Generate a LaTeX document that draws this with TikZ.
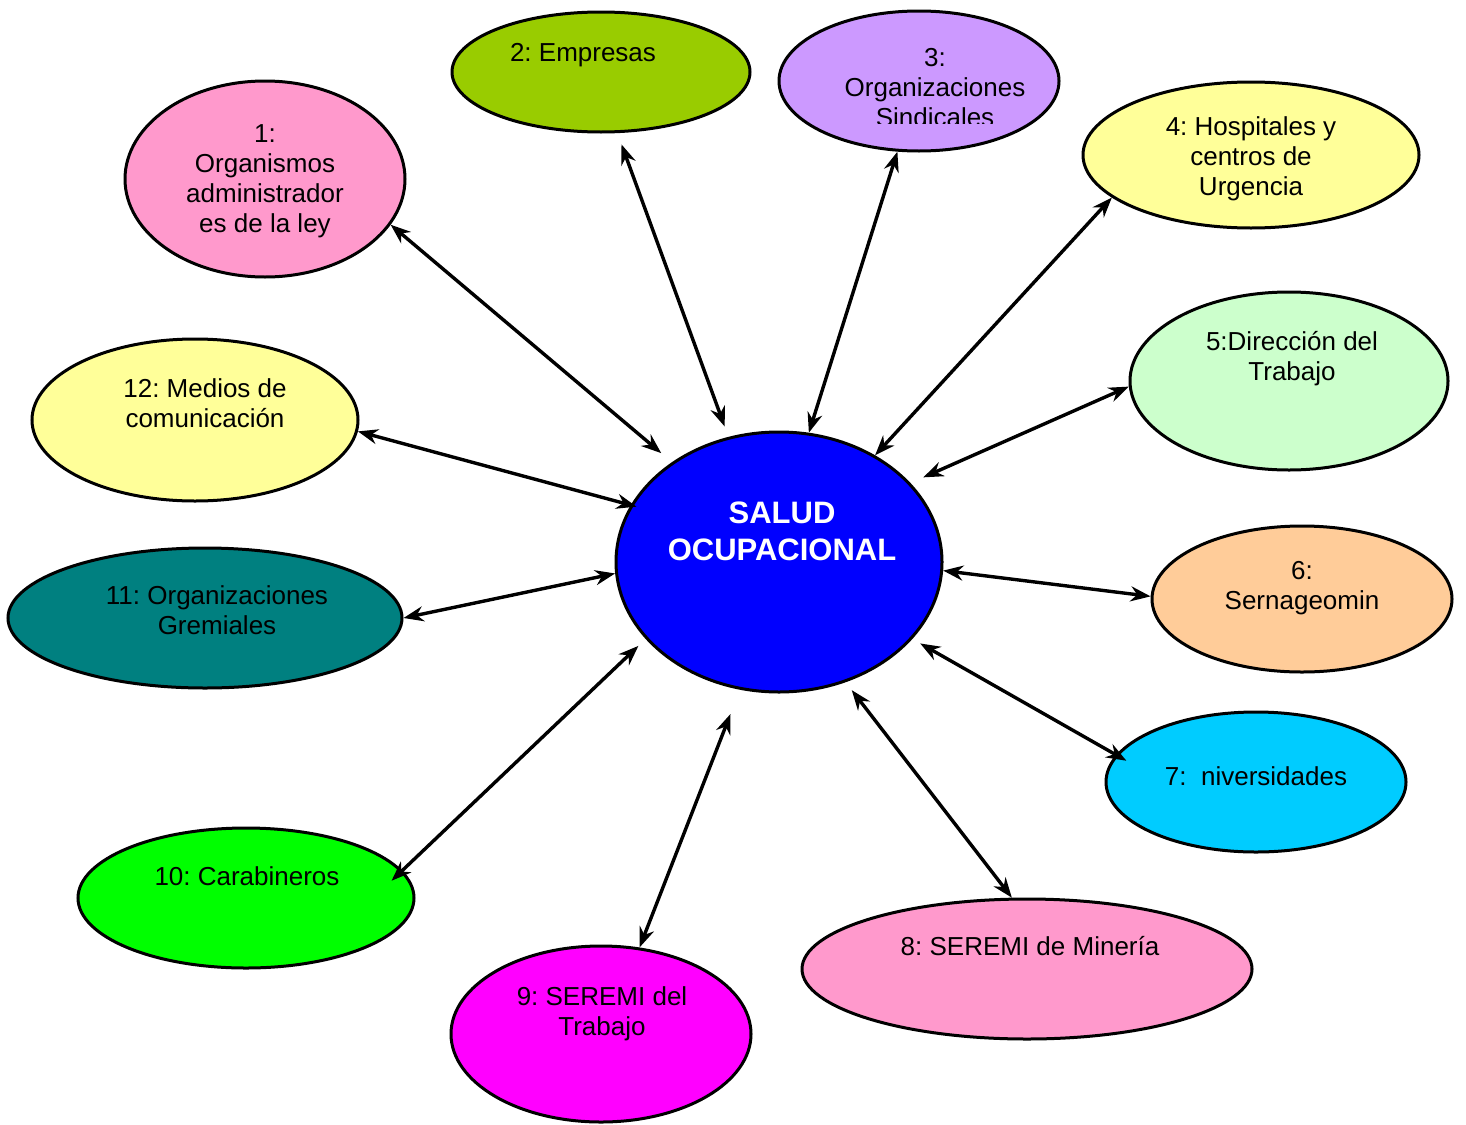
\documentclass[tikz,border=0pt]{standalone}
\usepackage{fontspec}
\setmainfont{Liberation Sans}
\usetikzlibrary{arrows.meta,shapes.geometric}
\frenchspacing

\definecolor{rosa}{HTML}{FF99CC}
\definecolor{oliva}{HTML}{99CC00}
\definecolor{lila}{HTML}{CC99FF}
\definecolor{amarillo}{HTML}{FFFF99}
\definecolor{menta}{HTML}{CCFFCC}
\definecolor{durazno}{HTML}{FFCC99}
\definecolor{celeste}{HTML}{00CCFF}
\definecolor{magenta}{HTML}{FF00FF}
\definecolor{verde}{HTML}{00FF00}
\definecolor{petroleo}{HTML}{008080}
\definecolor{azul}{HTML}{0000FF}

\begin{document}
\begin{tikzpicture}[
  x=0.5pt, y=-0.5pt,
  >={Stealth[length=10pt,width=7.5pt]},
  blob/.style={ellipse, draw, line width=1.5pt, inner sep=0pt},
  txt/.style={align=center, font=\fontsize{13}{15}\selectfont},
  link/.style={<->, line width=1.7pt}
  ]
\useasboundingbox (0,0) rectangle (1466,1124);
%\draw [ultra thin, lightgray] (0,0) grid [step=100] (1466,1124);
\node [blob, fill=azul, minimum width=163pt, minimum height=130pt] (s) at (779,562) {};
\node [blob, fill=rosa, minimum width=140pt, minimum height=98pt] (e1) at (265,179) {};
\node [blob, fill=oliva, minimum width=149pt, minimum height=60pt] (e2) at (601,72) {};
\node [blob, fill=lila, minimum width=140pt, minimum height=70pt] (e3) at (919,81) {};
\node [blob, fill=amarillo, minimum width=168pt, minimum height=73pt] (e4) at (1251,155) {};
\node [blob, fill=menta, minimum width=159pt, minimum height=89pt] (e5) at (1289,381) {};
\node [blob, fill=durazno, minimum width=150pt, minimum height=73pt] (e6) at (1302,599) {};
\node [blob, fill=celeste, minimum width=150pt, minimum height=70pt] (e7) at (1256,782) {};
\node [blob, fill=rosa, minimum width=225pt, minimum height=70pt] (e8) at (1027,969) {};
\node [blob, fill=magenta, minimum width=150pt, minimum height=88pt] (e9) at (601,1034) {};
\node [blob, fill=verde, minimum width=168pt, minimum height=70pt] (e10) at (246,898) {};
\node [blob, fill=petroleo, minimum width=197pt, minimum height=70pt] (e11) at (205,618) {};
\node [blob, fill=amarillo, minimum width=163pt, minimum height=81pt] (e12) at (195,420) {};

\draw [link, shorten >=7pt] (e1.-20) -- (s.137);
\draw [link, shorten <=6pt, shorten >=5.5pt] (e2.-75) -- (s.112);
\draw [link] (e3.-107) -- (s.77);
\draw [link] (e4.197) -- (s.48);
\draw [link, shorten >=7pt] (e5.182) -- (s.31);
\draw [link] (e6.179) -- (s.-3.5);
\draw [link, shorten <=-6pt, shorten >=4.5pt] (e7.169) -- (s.-30);
\draw [link, shorten >=5pt] (e8.102) -- (s.-61);
\draw [link, shorten >=13pt] (e9.66) -- (s.-107);
\draw [link, shorten <=-7.5pt, shorten >=5pt] (e10.10) -- (s.210);
\draw [link] (e11.0) -- (s.184);
\draw [link, shorten >=-3pt] (e12.-4) -- (s.159);

\node [align=center, text=white, font=\bfseries\fontsize{15.5}{18.5}\selectfont] (ts) at (782,531) {SALUD\\OCUPACIONAL};
\node [txt] (t1) at (265,181) {1:\\Organismos\\administrador\\es de la ley};
\node [txt] (t2) at (583,55) {2: Empresas};
\begin{scope}
\clip (780,0) rectangle (1060,123);
\node [txt] (t3) at (935,88) {3:\\Organizaciones\\Sindicales};
\end{scope}
\node [txt] (t4) at (1251,159) {4: Hospitales y\\centros de\\Urgencia};
\node [txt] (t5) at (1292,359) {5:Dirección del\\Trabajo};
\node [txt] (t6) at (1302,588) {6:\\Sernageomin};
\node [txt] (t7) at (1256,776) {7:\ \ niversidades};
\node [txt] (t8) at (1030,946) {8: SEREMI de Minería};
\node [txt] (t9) at (602,1014) {9: SEREMI del\\Trabajo};
\node [txt] (t10) at (247,876) {10: Carabineros};
\node [txt] (t11) at (217,610) {11: Organizaciones\\Gremiales};
\node [txt] (t12) at (205,403) {12: Medios de\\comunicación};
\end{tikzpicture}
\end{document}
